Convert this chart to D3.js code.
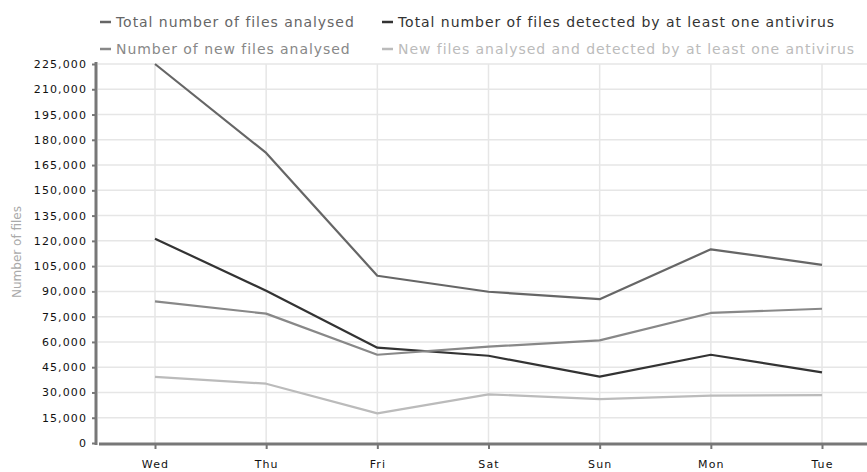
<!DOCTYPE html>
<html>
<head>
<meta charset="utf-8">
<script src="https://cdn.jsdelivr.net/npm/d3@7"></script>
<style>
  html, body { margin: 0; padding: 0; background: #fff; }
  svg { display: block; }
  text { font-family: "DejaVu Sans", Verdana, sans-serif; }
</style>
</head>
<body>
<svg id="chart" width="867" height="472"></svg>
<script>
// ---- data ----
const days = ["Wed", "Thu", "Fri", "Sat", "Sun", "Mon", "Tue"];
const seriesNames = [
  "Total number of files analysed",
  "Total number of files detected by at least one antivirus",
  "Number of new files analysed",
  "New files analysed and detected by at least one antivirus"
];
const totalAnalysed = [225000, 172200, 99300, 89800, 85400, 115000, 105800];
const totalDetected = [121300, 90400, 56600, 51800, 39400, 52400, 41900];
const newAnalysed   = [84100, 76800, 52400, 57200, 60900, 77200, 79700];
const newDetected   = [39200, 35200, 17600, 28900, 26100, 28100, 28400];
const yTicks = [0, 15000, 30000, 45000, 60000, 75000, 90000, 105000, 120000,
                135000, 150000, 165000, 180000, 195000, 210000, 225000];
const yTitle = "Number of files";

// ---- chart ----
(function () {
const colors = ["#666666", "#333333", "#888888", "#bbbbbb"];
const seriesValues = [totalAnalysed, totalDetected, newAnalysed, newDetected];

const svg = d3.select("#chart");
const W = 867;
const pLeft = 96, pTop = 64, pBottom = 443;

const x = d3.scalePoint().domain(days).range([155, 822]);
const y = d3.scaleLinear().domain([0, 225000]).range([pBottom, pTop]);

// horizontal gridlines
svg.append("g").selectAll("line").data(yTicks.filter(d => d > 0)).join("line")
  .attr("x1", pLeft + 2).attr("x2", W)
  .attr("y1", d => y(d)).attr("y2", d => y(d))
  .attr("stroke", "#e6e6e6").attr("stroke-width", 1.5);

// vertical gridlines
svg.append("g").selectAll("line").data(days).join("line")
  .attr("x1", d => x(d)).attr("x2", d => x(d))
  .attr("y1", pTop).attr("y2", pBottom)
  .attr("stroke", "#e6e6e6").attr("stroke-width", 1.5);

// y axis
const yAxis = svg.append("g")
  .attr("transform", `translate(${pLeft},0)`)
  .call(d3.axisLeft(y).tickValues(yTicks).tickFormat(d3.format(",")).tickSize(4).tickPadding(5));
yAxis.select(".domain").remove();
yAxis.append("line").attr("x1", 0).attr("x2", 0).attr("y1", pTop - 2).attr("y2", pBottom + 2)
  .attr("stroke", "#777").attr("stroke-width", 3);
yAxis.selectAll(".tick line").attr("stroke", "#777").attr("stroke-width", 2).attr("x2", -4);
yAxis.selectAll(".tick text")
  .attr("fill", "#111").attr("font-size", "11px").attr("letter-spacing", "1.1px");

// x axis
const xAxis = svg.append("g")
  .attr("transform", `translate(0,${pBottom + 1})`)
  .call(d3.axisBottom(x).tickSize(5).tickPadding(11));
xAxis.select(".domain").remove();
xAxis.append("line").attr("x1", pLeft + 3).attr("x2", W).attr("y1", 0).attr("y2", 0)
  .attr("stroke", "#777").attr("stroke-width", 3);
xAxis.selectAll(".tick line").attr("stroke", "#777").attr("stroke-width", 2);
xAxis.selectAll(".tick text")
  .attr("fill", "#111").attr("font-size", "11px").attr("letter-spacing", "1.1px");

// y title
svg.append("text")
  .attr("transform", "translate(21,252) rotate(-90)")
  .attr("text-anchor", "middle")
  .attr("fill", "#aaa").attr("font-size", "12px")
  .text(yTitle);

// lines
const line = d3.line().x((d, i) => x(days[i])).y(d => y(d));
seriesValues.forEach((vals, i) => {
  svg.append("path").datum(vals)
    .attr("d", line)
    .attr("fill", "none")
    .attr("stroke", colors[i])
    .attr("stroke-width", 2.2)
    .attr("stroke-linejoin", "round");
});

// legend
const legendPos = [[100, 27], [382, 27], [100, 54], [382, 54]];
seriesNames.forEach((name, i) => {
  const [lx, ly] = legendPos[i];
  const g = svg.append("g").attr("transform", `translate(${lx},${ly})`);
  g.append("line").attr("x1", 0).attr("x2", 11).attr("y1", -5).attr("y2", -5)
    .attr("stroke", colors[i]).attr("stroke-width", 2.5);
  g.append("text").attr("x", 16).attr("y", 0)
    .attr("fill", colors[i]).attr("font-size", "14px").attr("letter-spacing", "0.95px")
    .text(name);
});
})();
</script>
</body>
</html>
